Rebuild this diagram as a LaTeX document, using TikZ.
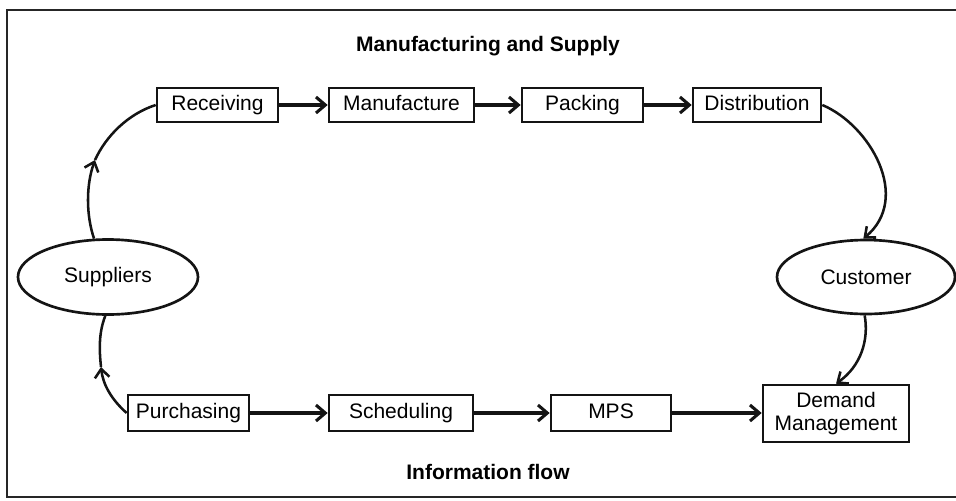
\documentclass[tikz,border=0pt]{standalone}
\usepackage{fontspec}
\setmainfont{Liberation Sans}
\usetikzlibrary{shapes.geometric,arrows.meta}
\begin{document}
\begin{tikzpicture}[x=0.75pt,y=-0.75pt,
  lbl/.style={font=\fontsize{15.75}{17.5}\selectfont, text=black},
  ttl/.style={font=\fontsize{15.75}{17.5}\selectfont\bfseries, text=black},
  stepbox/.style={lbl, draw=black!92, line width=2pt, inner sep=0pt, minimum height=34*0.75pt, align=center, text height=11.5pt, text depth=3.2pt},
  ell/.style={lbl, ellipse, draw=black!92, line width=2pt, inner sep=0pt, minimum width=180*0.75pt, minimum height=75*0.75pt},
  flow/.style={draw=black!92, line width=2.3pt, -{Straight Barb[length=7pt,width=12pt,line width=2.3pt]}},
  curvearrow/.style={draw=black!92, line width=1.9pt, -{Straight Barb[length=6.5pt,width=11pt,line width=1.9pt]}},
  curveline/.style={draw=black!92, line width=1.9pt}]
\useasboundingbox (0,0) rectangle (956,500);
\begin{scope}
\clip (0,0) rectangle (956,500);
\draw[draw=black!85, line width=1.7pt] (7,10) rectangle (975,497);
\end{scope}

\node[ttl] (t1) at (488,46) {Manufacturing and Supply};
\node[ttl] (t2) at (488,472) {Information flow};

\node[stepbox, minimum width=121*0.75pt] (rec) at (217.5,105) {Receiving};
\node[stepbox, minimum width=145*0.75pt] (man) at (401.5,105) {Manufacture};
\node[stepbox, minimum width=121*0.75pt] (pac) at (582.5,105) {Packing};
\node[stepbox, minimum width=128*0.75pt] (dis) at (757,105) {Distribution};

\node[stepbox, minimum width=121*0.75pt, minimum height=36*0.75pt] (pur) at (188.5,413) {Purchasing};
\node[stepbox, minimum width=144*0.75pt, minimum height=36*0.75pt] (sch) at (401,413) {Scheduling};
\node[stepbox, minimum width=120*0.75pt, minimum height=36*0.75pt] (mps) at (611,413) {MPS};
\node[stepbox, text height=, text depth=, minimum width=146*0.75pt, minimum height=57*0.75pt, font=\fontsize{15.75}{17.25}\selectfont] (dem) at (836,413.5) {Demand\\Management};

\node[ell] (sup) at (108,277) {Suppliers};
\node[ell, minimum width=178*0.75pt, minimum height=74*0.75pt] (cus) at (866,277) {Customer};

\draw[flow] (rec) -- (man);
\draw[flow] (man) -- (pac);
\draw[flow] (pac) -- (dis);
\draw[flow] (pur) -- (sch);
\draw[flow] (sch) -- (mps);
\draw[flow] (mps.east) -- (mps.east -| dem.west);

% Suppliers -> Receiving
\coordinate (m1) at (95,160);
\draw[curvearrow] (sup.110) .. controls (86,215) and (86,185) .. (m1);
\draw[curveline] (m1) .. controls (106,136) and (128,114) .. (rec.west);

% Purchasing -> Suppliers
\coordinate (m2) at (101,367);
\draw[curvearrow] (pur.west) .. controls (112,400) and (103,385) .. (m2);
\draw[curveline] (m2) .. controls (99,348) and (99,332) .. (sup.266);

% Distribution -> Customer
\draw[curvearrow] (dis.east) .. controls (870,125) and (912,198) .. (cus.94);

% Customer -> Demand
\draw[curvearrow] (cus.268) .. controls (869,340) and (861,366) .. (dem.north);
\end{tikzpicture}
\end{document}
